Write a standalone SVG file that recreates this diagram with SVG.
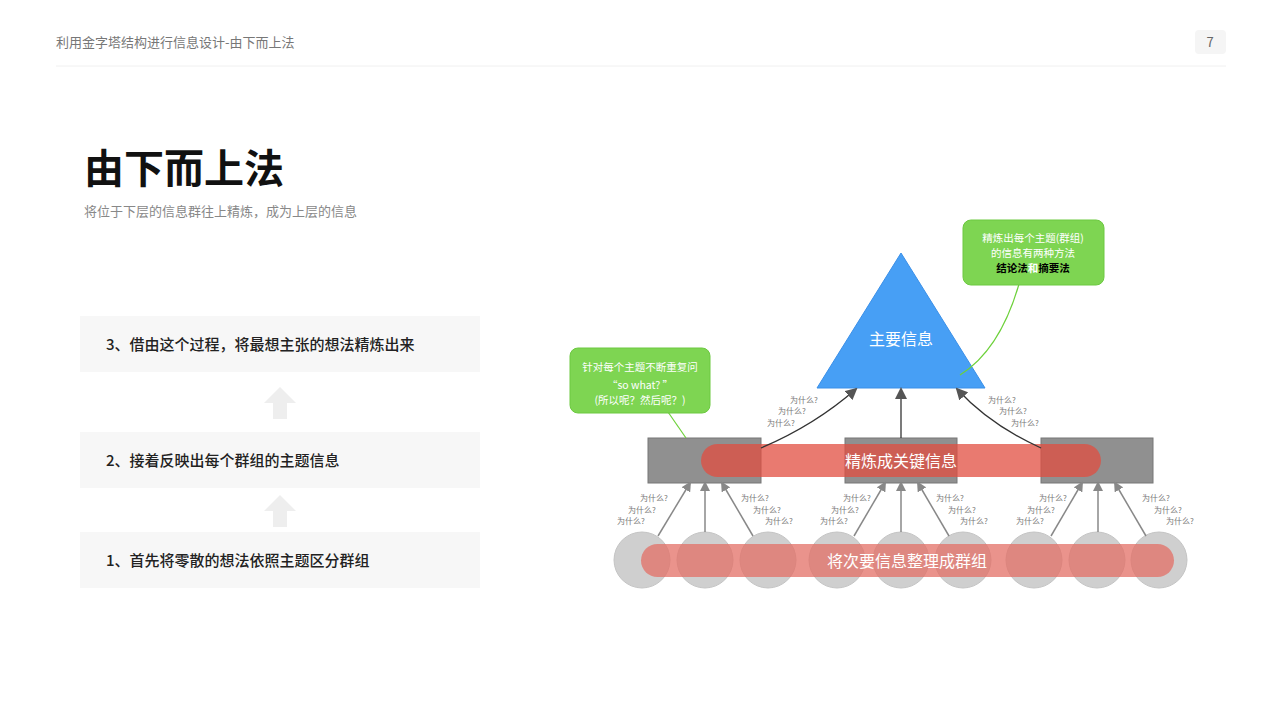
<svg xmlns="http://www.w3.org/2000/svg" width="1280" height="720" viewBox="0 0 1280 720">
<style>
text{font-family:"Noto Sans CJK SC","Liberation Sans",sans-serif}
.why{font-size:8px;fill:#777}
.step{font-size:15px;fill:#222;font-weight:500}
.gr{fill:#909090;stroke:#777;stroke-width:1}
.cir{fill:#cfcfcf;stroke:#c4c4c4;stroke-width:1}
.ar{stroke:#888;stroke-width:1.5;fill:none}
.ar2{stroke:#333;stroke-width:1.3;fill:none}
</style>
<defs>
<marker id="ma" markerWidth="10" markerHeight="10" refX="8" refY="5" orient="auto" markerUnits="userSpaceOnUse"><path d="M0,0L10,5L0,10z" fill="#888"/></marker>
<marker id="mb" markerWidth="12" markerHeight="12" refX="10" refY="6" orient="auto" markerUnits="userSpaceOnUse"><path d="M0,0L12,6L0,12z" fill="#555"/></marker>
</defs>
<rect width="1280" height="720" fill="#fff"/>
<g id="header">
<text x="56" y="47" font-size="13" fill="#777">利用金字塔结构进行信息设计-由下而上法</text>
<rect x="1195" y="30" width="31" height="24" rx="4" fill="#f5f5f5"/>
<text x="1210" y="47" font-size="13" fill="#666" text-anchor="middle">7</text>
<line x1="56" y1="66" x2="1226" y2="66" stroke="#f0f0f0"/>
</g>
<g id="title">
<text x="84" y="183" font-size="40" font-weight="bold" fill="#111">由下而上法</text>
<text x="84" y="216" font-size="13" fill="#888">将位于下层的信息群往上精炼，成为上层的信息</text>
</g>
<g id="steps">
<rect x="80" y="316" width="400" height="56" fill="#f7f7f7"/>
<text x="106" y="350" class="step">3、借由这个过程，将最想主张的想法精炼出来</text>
<rect x="80" y="432" width="400" height="56" fill="#f7f7f7"/>
<text x="106" y="466" class="step">2、接着反映出每个群组的主题信息</text>
<rect x="80" y="532" width="400" height="56" fill="#f7f7f7"/>
<text x="106" y="566" class="step">1、首先将零散的想法依照主题区分群组</text>
<path d="M280,387l16,16h-9v16h-14v-16h-9z" fill="#eee"/>
<path d="M280,495l16,16h-9v16h-14v-16h-9z" fill="#eee"/>
</g>
<g id="circles">
<circle class="cir" cx="642" cy="560" r="28"/><circle class="cir" cx="705" cy="560" r="28"/><circle class="cir" cx="768" cy="560" r="28"/>
<circle class="cir" cx="837" cy="560" r="28"/><circle class="cir" cx="901" cy="560" r="28"/><circle class="cir" cx="963" cy="560" r="28"/>
<circle class="cir" cx="1034" cy="560" r="28"/><circle class="cir" cx="1097" cy="560" r="28"/><circle class="cir" cx="1159" cy="560" r="28"/>
</g>
<g id="bottom-pill">
<rect x="641" y="544" width="533" height="33" rx="16.5" fill="#e36f66" fill-opacity="0.75"/>
<text x="907" y="567" font-size="16" fill="#fff" text-anchor="middle">将次要信息整理成群组</text>
</g>
<g id="groups">
<rect class="gr" x="648" y="438" width="113" height="45"/>
<rect class="gr" x="845" y="438" width="112" height="45"/>
<rect class="gr" x="1041" y="438" width="112" height="45"/>
</g>
<g id="mid-pill">
<rect x="701" y="444" width="400" height="33" rx="16.5" fill="#e14d40" fill-opacity="0.75"/>
<text x="901" y="467" font-size="16" fill="#fff" text-anchor="middle">精炼成关键信息</text>
</g>
<g id="top">
<polygon points="901,253 817,388 985,388" fill="#479ff5" stroke="#3a8fe8"/>
<text x="901" y="345" font-size="16" fill="#fff" text-anchor="middle">主要信息</text>
</g>
<g id="connectors">
<line class="ar" x1="658" y1="536" x2="690" y2="483" marker-end="url(#ma)"/>
<line class="ar" x1="705" y1="532" x2="705" y2="483" marker-end="url(#ma)"/>
<line class="ar" x1="753" y1="536" x2="722" y2="483" marker-end="url(#ma)"/>
<line class="ar" x1="854" y1="536" x2="885" y2="483" marker-end="url(#ma)"/>
<line class="ar" x1="901" y1="532" x2="901" y2="483" marker-end="url(#ma)"/>
<line class="ar" x1="949" y1="536" x2="918" y2="483" marker-end="url(#ma)"/>
<line class="ar" x1="1051" y1="536" x2="1082" y2="483" marker-end="url(#ma)"/>
<line class="ar" x1="1098" y1="532" x2="1098" y2="483" marker-end="url(#ma)"/>
<line class="ar" x1="1146" y1="536" x2="1115" y2="483" marker-end="url(#ma)"/>
<path class="ar2" d="M761,448Q815,425 856,389" marker-end="url(#mb)"/>
<line class="ar2" x1="901" y1="438" x2="901" y2="389" marker-end="url(#mb)"/>
<path class="ar2" d="M1041,448Q990,425 957,389" marker-end="url(#mb)"/>
<path d="M1019,284Q1000,350 960,375" stroke="#6dd13a" fill="none" stroke-width="1.2"/>
<line x1="668" y1="412" x2="686" y2="438" stroke="#6dd13a" stroke-width="1.2"/>
</g>
<g id="whys">
<text class="why" x="790" y="403">为什么?</text><text class="why" x="778" y="414">为什么?</text><text class="why" x="767" y="426">为什么?</text>
<text class="why" x="988" y="403">为什么?</text><text class="why" x="999" y="414">为什么?</text><text class="why" x="1011" y="426">为什么?</text>
<text class="why" x="640" y="501">为什么?</text><text class="why" x="628" y="513">为什么?</text><text class="why" x="617" y="524">为什么?</text>
<text class="why" x="741" y="501">为什么?</text><text class="why" x="753" y="513">为什么?</text><text class="why" x="765" y="524">为什么?</text>
<text class="why" x="843" y="501">为什么?</text><text class="why" x="831" y="513">为什么?</text><text class="why" x="820" y="524">为什么?</text>
<text class="why" x="936" y="501">为什么?</text><text class="why" x="948" y="513">为什么?</text><text class="why" x="960" y="524">为什么?</text>
<text class="why" x="1039" y="501">为什么?</text><text class="why" x="1027" y="513">为什么?</text><text class="why" x="1016" y="524">为什么?</text>
<text class="why" x="1142" y="501">为什么?</text><text class="why" x="1154" y="513">为什么?</text><text class="why" x="1166" y="524">为什么?</text>
</g>
<g id="note-right">
<rect x="963" y="220" width="141" height="65" rx="8" fill="#7ed552" stroke="#6cc940"/>
<text x="1033" y="242" font-size="10.5" fill="#fff" text-anchor="middle">精炼出每个主题(群组)</text>
<text x="1033" y="257" font-size="10.5" fill="#fff" text-anchor="middle">的信息有两种方法</text>
<text x="1033" y="272" font-size="10.5" text-anchor="middle" font-weight="bold"><tspan fill="#000">结论法</tspan><tspan fill="#fff">和</tspan><tspan fill="#000">摘要法</tspan></text>
</g>
<g id="note-left">
<rect x="570" y="348" width="140" height="65" rx="8" fill="#7ed552" stroke="#6cc940"/>
<text x="640" y="371" font-size="10.5" fill="#fff" text-anchor="middle">针对每个主题不断重复问</text>
<text x="640" y="389" font-size="10.5" fill="#fff" text-anchor="middle">“so what? ”</text>
<text x="640" y="404" font-size="10.5" fill="#fff" text-anchor="middle">(所以呢？然后呢？)</text>
</g>
</svg>
